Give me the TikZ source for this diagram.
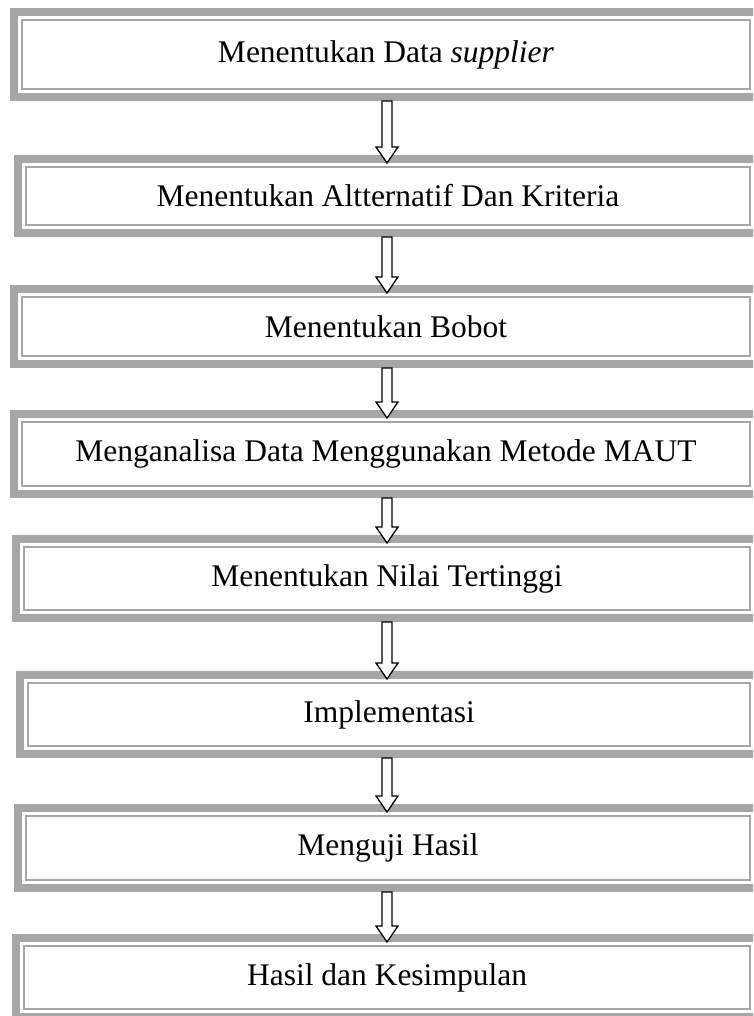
\documentclass[tikz,border=0pt]{standalone}
\usepackage{fontspec}
\setmainfont{Liberation Serif}
\usetikzlibrary{calc}
\definecolor{bordergray}{HTML}{A6A6A6}
\tikzset{
  stepbox/.style={draw=bordergray, line width=8pt, anchor=north west, inner sep=0pt,
    font=\fontsize{31.5}{36}\selectfont, text=black},
  innerline/.style={draw=bordergray, line width=2.5pt},
  blockarrow/.style={draw=black, line width=1.3pt, fill=white, line join=miter},
}
\newcommand\mkstepbox[5]{%
  \node[stepbox, minimum width={(762-#2-8)*1pt}, minimum height={(#4-#3-8)*1pt}] (#1) at (#2,#3) {#5};
  \draw[innerline] ($(#1.north west)+(12,12)$) rectangle ($(#1.south east)+(-12,-12)$);
}
\newcommand\mkblkarrow[2]{%
  \draw[blockarrow] let \p1=(#1.south), \p2=(#2.north), \p3=(ax) in
    (\x3-5pt,\y1) -- (\x3+5pt,\y1) -- (\x3+5pt,\y2+8pt) -- (\x3+11pt,\y2+8pt)
    -- (\x3,\y2-8pt) -- (\x3-11pt,\y2+8pt) -- (\x3-5pt,\y2+8pt) -- cycle;
}
\begin{document}
\begin{tikzpicture}[x=1pt,y=-1pt]
  \useasboundingbox (0,0) rectangle (753,1016);
  \clip (0,0) rectangle (753,1016);
  \fill[white] (0,0) rectangle (753,1016);
  \coordinate (ax) at (387,0);
  \mkstepbox{b1}{10}{8}{101}{Menentukan Data \textit{supplier}}
  \mkstepbox{b2}{14}{155}{237}{Menentukan Altternatif Dan Kriteria}
  \mkstepbox{b3}{10}{285}{368}{Menentukan Bobot}
  \mkstepbox{b4}{10}{410}{498}{Menganalisa Data Menggunakan Metode MAUT}
  \mkstepbox{b5}{12}{535}{622}{Menentukan Nilai Tertinggi}
  \mkstepbox{b6}{16}{671}{758}{Implementasi}
  \mkstepbox{b7}{14}{804}{892}{Menguji Hasil}
  \mkstepbox{b8}{12}{934}{1021}{Hasil dan Kesimpulan}
  \mkblkarrow{b1}{b2}
  \mkblkarrow{b2}{b3}
  \mkblkarrow{b3}{b4}
  \mkblkarrow{b4}{b5}
  \mkblkarrow{b5}{b6}
  \mkblkarrow{b6}{b7}
  \mkblkarrow{b7}{b8}
\end{tikzpicture}
\end{document}
